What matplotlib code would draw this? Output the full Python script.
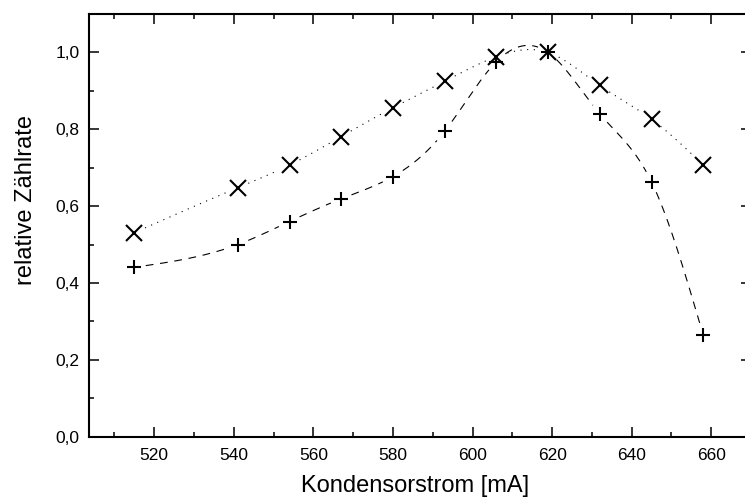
import numpy as np
import matplotlib
matplotlib.use("Agg")
import matplotlib.pyplot as plt
from matplotlib.ticker import MultipleLocator, FuncFormatter

plt.rcParams["font.family"] = ["Liberation Sans", "DejaVu Sans"]

# Messwerte
strom = [515, 541, 554, 567, 580, 593, 606, 619, 632, 645, 658]
rate_x = [0.531, 0.648, 0.707, 0.781, 0.856, 0.925, 0.989, 1.0, 0.914, 0.826, 0.707]
rate_plus = [0.441, 0.500, 0.560, 0.619, 0.677, 0.795, 0.976, 1.0, 0.840, 0.663, 0.264]


def natural_spline(x, y, xs):
    # natuerlicher kubischer Spline durch die Messpunkte
    x = np.asarray(x, float)
    y = np.asarray(y, float)
    n = len(x)
    h = np.diff(x)
    A = np.zeros((n, n))
    b = np.zeros(n)
    A[0, 0] = A[-1, -1] = 1
    for i in range(1, n - 1):
        A[i, i - 1] = h[i - 1]
        A[i, i] = 2 * (h[i - 1] + h[i])
        A[i, i + 1] = h[i]
        b[i] = 6 * ((y[i + 1] - y[i]) / h[i] - (y[i] - y[i - 1]) / h[i - 1])
    M = np.linalg.solve(A, b)
    idx = np.clip(np.searchsorted(x, xs) - 1, 0, n - 2)
    x0, x1 = x[idx], x[idx + 1]
    hh = x1 - x0
    t0 = x1 - xs
    t1 = xs - x0
    return (M[idx] * t0**3 / (6 * hh) + M[idx + 1] * t1**3 / (6 * hh)
            + (y[idx] / hh - M[idx] * hh / 6) * t0
            + (y[idx + 1] / hh - M[idx + 1] * hh / 6) * t1)


fig = plt.figure(figsize=(7.45, 5.0), dpi=100)
ax = fig.add_axes([89 / 745, 63.3 / 500, (751 - 89) / 745, 422.7 / 500])
ax.set_xlim(503.6, 670)
ax.set_ylim(0, 1.1)


def gapped(x, y, r=11):
    # Luecke um die Symbole wie im Original
    xs = np.linspace(x[0], x[-1], 800)
    ys = natural_spline(x, y, xs)
    pts = ax.transData.transform(np.column_stack([xs, ys]))
    mk = ax.transData.transform(np.column_stack([x, y]))
    for px, py in mk:
        d = np.hypot(pts[:, 0] - px, pts[:, 1] - py)
        ys = np.where(d < r, np.nan, ys)
    return xs, ys


xs, ys = gapped(strom, rate_x)
ax.plot(xs, ys, color="black", lw=0.8, dashes=(1, 5))
xs, ys = gapped(strom, rate_plus)
ax.plot(xs, ys, color="black", lw=0.8, dashes=(7, 6))

ax.plot(strom, rate_x, linestyle="none", marker="x", ms=11.5, mew=1.5, color="black")
ax.plot(strom, rate_plus, linestyle="none", marker="+", ms=10.5, mew=1.5, color="black")

ax.xaxis.set_major_locator(MultipleLocator(20))
ax.xaxis.set_minor_locator(MultipleLocator(10))
ax.yaxis.set_major_locator(MultipleLocator(0.2))
ax.yaxis.set_minor_locator(MultipleLocator(0.1))
ax.yaxis.set_major_formatter(FuncFormatter(lambda v, p: f"{v:.1f}".replace(".", ",")))

for s in ax.spines.values():
    s.set_linewidth(1.5)
ax.tick_params(which="both", direction="in", top=True, right=True, labelsize=12.5)
ax.tick_params(which="major", length=7.2, width=1.1)
ax.tick_params(which="minor", length=3.6, width=1.1)
ax.tick_params(axis="x", pad=8)
ax.tick_params(axis="y", pad=7)

fig.text(415 / 745, 1 - 486 / 500, "Kondensorstrom [mA]", ha="center", va="center", fontsize=17)
fig.text(26 / 745, 1 - 200 / 500, "relative Zählrate", ha="center", va="center",
         rotation=90, fontsize=17)

fig.savefig("out.png", dpi=100)
